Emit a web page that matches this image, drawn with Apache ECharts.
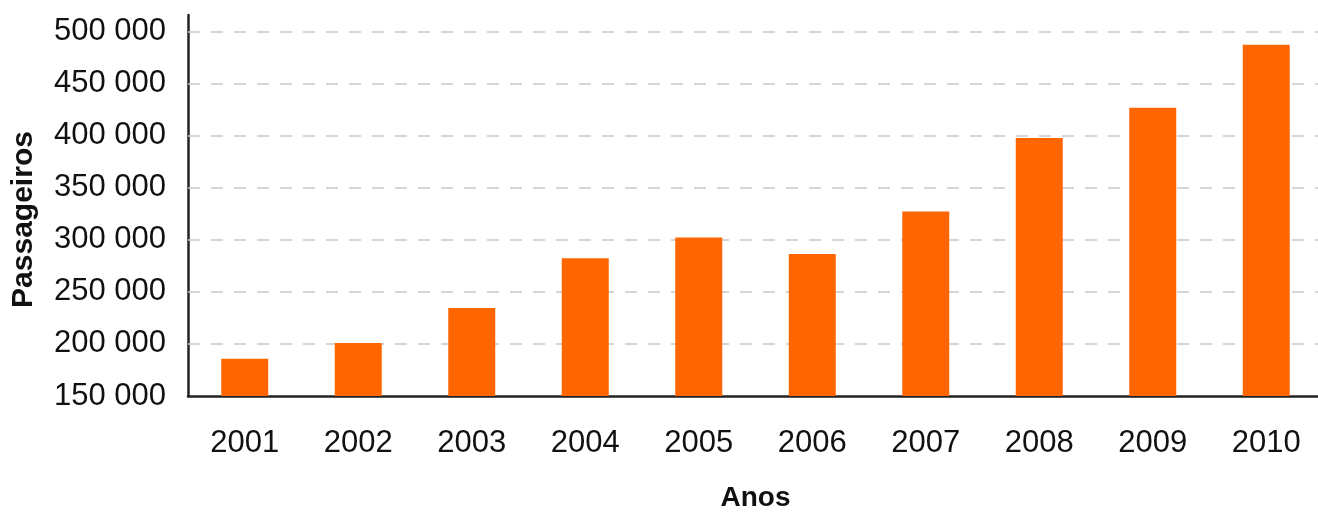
<!DOCTYPE html>
<html>
<head>
<meta charset="utf-8">
<script src="https://cdn.jsdelivr.net/npm/echarts@6/dist/echarts.min.js"></script>
<style>
html,body{margin:0;padding:0;background:#fff;}
#chart{width:1318px;height:512px;}
</style>
</head>
<body>
<div id="chart"></div>
<script>
const categories = ['2001','2002','2003','2004','2005','2006','2007','2008','2009','2010'];
const passengers = [185800, 200800, 234600, 282400, 302200, 286500, 327300, 397800, 427000, 487500];
const gridTicks = [200000, 250000, 300000, 350000, 400000, 450000, 500000];
const yMin = 150000;
const yMax = 516000;
const yStep = 50000;

function fmt(v){ return String(v).replace(/\B(?=(\d{3})+(?!\d))/g, ' '); }

const chart = echarts.init(document.getElementById('chart'), null, {renderer:'canvas'});
const font = 'Liberation Sans, Arial, Helvetica, sans-serif';
chart.setOption({
  animation: false,
  backgroundColor: '#fff',
  grid: {left: 188, right: -5, top: 15, bottom: 116, containLabel: false, outerBoundsMode: 'none'},
  xAxis: {
    type: 'category',
    data: categories,
    name: 'Anos',
    nameLocation: 'middle',
    nameGap: 88,
    nameTextStyle: {fontFamily: font, fontSize: 28, fontWeight: 'bold', color: '#111'},
    axisLine: {lineStyle: {color: '#222', width: 2.5}},
    axisTick: {show: false},
    axisLabel: {fontFamily: font, fontSize: 31, color: '#111', margin: 32}
  },
  yAxis: {
    type: 'value',
    min: yMin, max: yMax, interval: yStep,
    name: 'Passageiros',
    nameLocation: 'middle',
    nameGap: 149,
    nameTextStyle: {fontFamily: font, fontSize: 30, fontWeight: 'bold', color: '#111', padding: [0, 28, 0, 0]},
    axisLine: {show: true, lineStyle: {color: '#222', width: 2.5}},
    axisTick: {show: false},
    splitLine: {show: false},
    axisLabel: {fontFamily: font, fontSize: 31, color: '#111', margin: 22, showMaxLabel: false, formatter: fmt}
  },
  series: [{
    type: 'bar',
    data: passengers,
    barWidth: 47,
    itemStyle: {color: '#ff6600'},
    z: 3,
    markLine: {
      silent: true,
      symbol: ['none','none'],
      label: {show: false},
      lineStyle: {color: '#c8c8c8', width: 1.5, type: [12, 11]},
      z: 1,
      data: gridTicks.map(v => ({yAxis: v}))
    }
  }]
});
</script>
</body>
</html>
